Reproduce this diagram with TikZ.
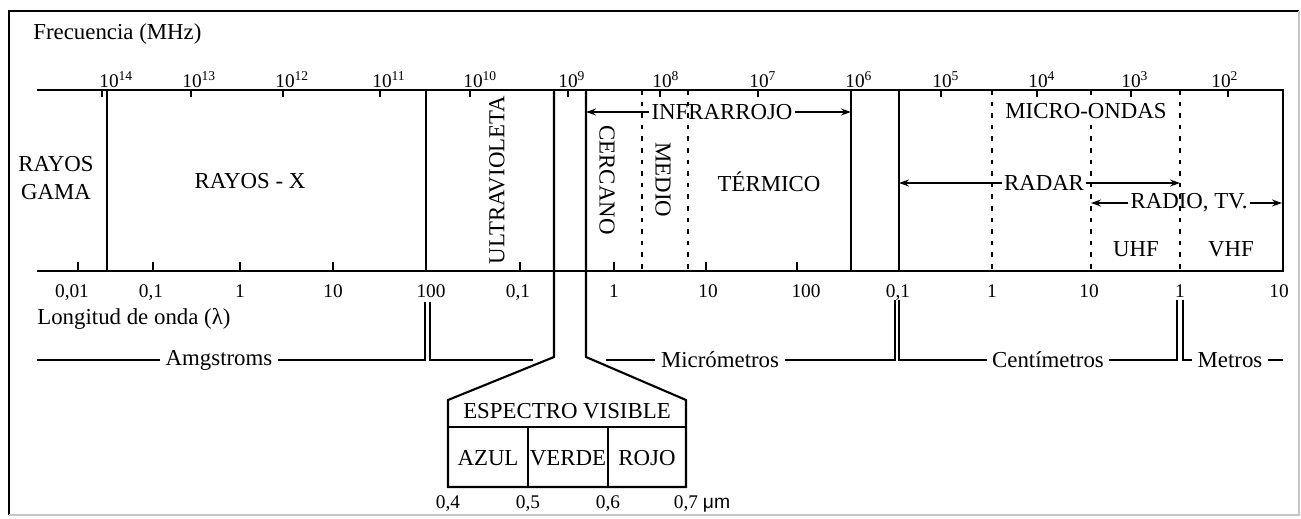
\documentclass[tikz,border=0pt]{standalone}
\usepackage{fontspec}
\setmainfont{Liberation Serif}
\setsansfont{Liberation Sans}
\usetikzlibrary{arrows.meta}

\begin{document}
\begin{tikzpicture}[x=0.02cm, y=-0.02cm,
  band/.style={line width=1.2pt},
  sepline/.style={line width=1.2pt, dash pattern=on 2.6pt off 4pt},
  tick/.style={line width=0.8pt},
  lbl/.style={font=\fontsize{13}{15.5}\selectfont, inner sep=1pt},
  num/.style={font=\fontsize{11}{13}\selectfont, inner sep=0pt, anchor=base},
  unit/.style={font=\fontsize{13}{15.5}\selectfont, inner sep=3pt},
  unitline/.style={line width=0.7pt},
  arr/.style={line width=0.8pt, -{Stealth[length=2mm,width=1.4mm]}}
]
  \def\ytop{90}
  \def\ybot{271}

  \useasboundingbox (0,0) rectangle (1301,518);
  \draw[line width=1.3pt] (9,515) -- (9,11) -- (1299,11);
  \draw[gray!45, line width=0.8pt] (1299,11) -- (1299,515) -- (9,515);

  \node[font=\fontsize{13}{15.5}\selectfont, inner sep=0pt, anchor=west] (freq) at (33,34) {Frecuencia (MHz)};
  \node[font=\fontsize{13}{15.5}\selectfont, inner sep=0pt, anchor=base west] (lambda) at (37,324) {Longitud de onda (λ)};

  \draw[band] (37,\ytop) -- (1283,\ytop) -- (1283,\ybot) -- (37,\ybot);
  \foreach \x in {107,426,851,899}
    \draw[band] (\x,\ytop) -- (\x,\ybot);
  \draw[band] (554,\ytop) -- (554,357) -- (448,400) -- (448,487) -- (686,487) -- (686,400) -- (586,357) -- (586,\ytop);
  \draw[band] (448,427) -- (686,427);
  \foreach \x in {528,608}
    \draw[band] (\x,427) -- (\x,487);
  \foreach \x in {642,688,992,1091,1180}
    \draw[sepline] (\x,\ytop) -- (\x,\ybot);

  \foreach \x in {102,191,283,380,470,568,660,758,941,1037,1131,1228}
    \draw[tick] (\x,\ytop) -- (\x,\ytop+7);
  \foreach \x in {78,153,240,333,520,614,706,797}
    \draw[tick] (\x,\ybot) -- (\x,\ybot-9);

  \foreach \x/\e in {109/14,192/13,285/12,382/11,473/10,568/9,662/8,759/7,855/6,942/5,1038/4,1131/3,1221/2}
    \node[num] (f\e) at (\x,87) {10\rlap{\textsuperscript{\e}}};
  \foreach \x/\v [count=\n] in {72/{0,01},151/{0,1},240/1,333/10,431/100,518/{0,1},614/1,708/10,806/100,898/{0,1},992/1,1089/10,1180/1,1279/10}
    \node[num] (w\n) at (\x,297) {\v};

  \node[lbl, align=center] (gama) at (56,178) {RAYOS\\GAMA};
  \node[lbl] (rayosx) at (250,181) {RAYOS - X};
  \node[lbl, rotate=90] (uv) at (497,180) {ULTRAVIOLETA};
  \node[lbl, rotate=-90] (cercano) at (607,180) {CERCANO};
  \node[lbl, rotate=-90] (medio) at (663,180) {MEDIO};
  \node[lbl] (termico) at (769,182) {TÉRMICO};
  \node[lbl] (ir) at (722,112) {INFRARROJO};
  \node[lbl, fill=white] (micro) at (1086,111) {MICRO-ONDAS};
  \node[lbl] (radar) at (1044,183) {RADAR};
  \node[lbl] (radio) at (1189,203) {RADIO, TV.};
  \node[lbl] (uhf) at (1136,249) {UHF};
  \node[lbl] (vhf) at (1231,249) {VHF};

  \coordinate (irL) at (586,112);
  \coordinate (irR) at (851,112);
  \coordinate (radarL) at (899,183);
  \coordinate (radarR) at (1180,183);
  \coordinate (radioL) at (1091,203);
  \coordinate (radioR) at (1282,203);
  \draw[arr] (ir) -- (irL);
  \draw[arr] (ir) -- (irR);
  \draw[arr] (radar) -- (radarL);
  \draw[arr] (radar) -- (radarR);
  \draw[arr] (radio) -- (radioL);
  \draw[arr] (radio) -- (radioR);

  \node[unit] (ang) at (219,360) {Amgstroms};
  \node[unit] (mic) at (720,360) {Micrómetros};
  \node[unit] (cen) at (1048,360) {Centímetros};
  \node[unit] (met) at (1230,360) {Metros};
  \coordinate (u0) at (37,360);
  \coordinate (u1) at (1283,360);
  \draw[unitline] (u0) -- (ang);
  \draw[unitline] (ang) -- (425,360) -- (425,302);
  \draw[unitline] (430,302) -- (430,360) -- (533,360);
  \draw[unitline] (606,360) -- (mic);
  \draw[unitline] (mic) -- (895,360) -- (895,300);
  \draw[unitline] (899,300) -- (899,360) -- (cen);
  \draw[unitline] (cen) -- (1177,360) -- (1177,300);
  \draw[unitline] (1183,300) -- (1183,360) -- (met);
  \draw[unitline] (met) -- (u1);

  \node[lbl] (vis) at (567,411) {ESPECTRO VISIBLE};
  \node[lbl] (azul) at (488,458) {AZUL};
  \node[lbl] (verde) at (568,458) {VERDE};
  \node[lbl] (rojo) at (647,458) {ROJO};
  \foreach \x/\v in {448/{0,4},528/{0,5},608/{0,6}}
    \node[num] at (\x,508) {\v};
  \node[num] (um) at (686,508) {0,7\rlap{ \textsf{μm}}};
\end{tikzpicture}
\end{document}
